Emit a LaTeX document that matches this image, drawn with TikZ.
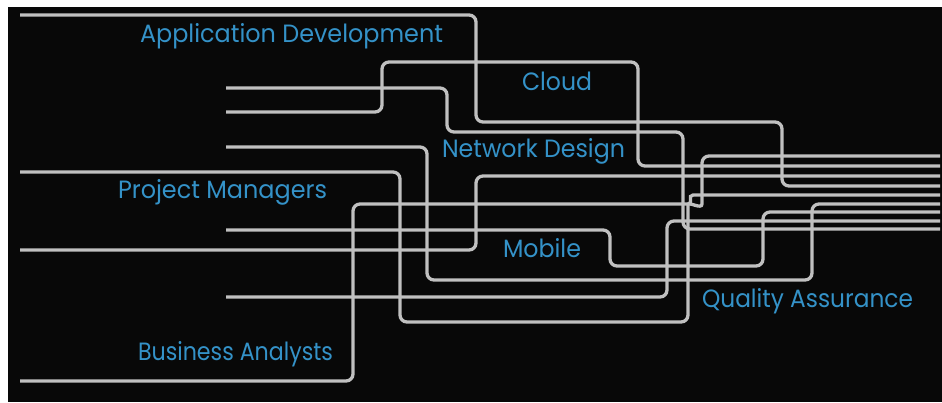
\documentclass[tikz,border=0pt]{standalone}
\usepackage{fontspec}
\setmainfont{Poppins}
\usepackage{graphicx}
\definecolor{wire}{RGB}{192,192,192}
\definecolor{lbl}{RGB}{52,146,200}
\tikzset{
  wirepath/.style={draw=wire, line width=3.3pt, rounded corners=7pt, line cap=butt},
  tag/.style={text=lbl, font=\fontsize{25}{25}\selectfont, anchor=base west, inner sep=0pt, outer sep=0pt}
}
\newcommand\fitw[2]{\resizebox{#1pt}{\height}{#2}}
\begin{document}
\begin{tikzpicture}[x=1pt,y=-1pt]
\useasboundingbox (0,0) rectangle (942,402);
\fill[white] (0,0) rectangle (942,402);
\fill[black!97] (8,7) rectangle (942,402);
% wires
\draw[wirepath] (20,15) -| (476,122) -| (782,186) -- (940,186);
\draw[wirepath] (226,88) -| (447,132) -| (683,229) -- (940,229);
\draw[wirepath] (226,112) -| (382,62) -| (638,166) -- (940,166);
\draw[wirepath] (226,147) -| (427,280) -| (812,204) -- (940,204);
\draw[wirepath] (20,172) -| (400,322) -- (688,322) -- (688,212) .. controls (688,201) and (702,210) .. (702,197) -- (702,156) -- (940,156);
\draw[wirepath] (226,230) -| (610,266) -| (763,212) -- (940,212);
\draw[wirepath] (20,250) -| (476,176) -- (940,176);
\draw[wirepath] (226,297) -| (667,221) -- (940,221);
\draw[wirepath] (20,381) -| (353,204) -- (681,204) .. controls (694,204) and (687,195) .. (700,195) -- (940,195);
% labels
\node[tag] (appdev) at (140,42) {\fitw{303}{Application Development}};
\node[tag] (cloud) at (522,90) {\fitw{70}{Cloud}};
\node[tag] (netdes) at (442,157) {\fitw{183}{Network Design}};
\node[tag] (pm) at (118,198) {\fitw{209}{Project Managers}};
\node[tag] (mobile) at (503,257) {\fitw{78}{Mobile}};
\node[tag] (qa) at (702,307) {\fitw{211}{Quality Assurance}};
\node[tag] (ba) at (138,360) {\fitw{195}{Business Analysts}};
\end{tikzpicture}
\end{document}
